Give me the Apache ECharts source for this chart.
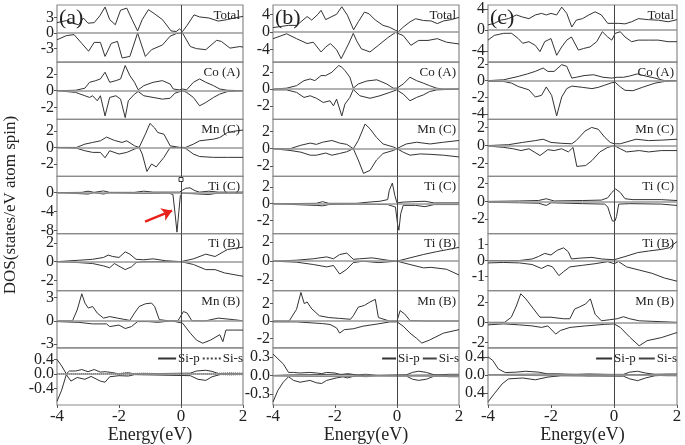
<!DOCTYPE html>
<html>
<head>
<meta charset="utf-8" />
<title>DOS panels</title>
<style>
  html, body { margin: 0; padding: 0; background: #fff; }
  #main { width: 685px; height: 445px; }
</style>
</head>
<body>
<script src="https://cdn.jsdelivr.net/npm/echarts@6/dist/echarts.min.js"></script>
<div id="main"></div>
<script>
// ---- panel names / letters / ticks ----
var rowNames = ["Total", "Co (A)", "Mn (C)", "Ti (C)", "Ti (B)", "Mn (B)", ""];
var colLetters = ["(a)", "(b)", "(c)"];
var energyTicks = [-4, -2, 0, 2];

// ---- column (a) ----
var aTotalUp = [[-4,2.0],[-3.7,2.4],[-3.45,1.8],[-3.3,1.6],[-3.15,2.9],[-3.0,1.9],[-2.8,2.0],[-2.62,3.3],[-2.45,5.0],[-2.3,2.6],[-2.12,1.6],[-1.95,4.4],[-1.75,4.8],[-1.58,2.6],[-1.4,0.4],[-1.25,2.6],[-1.05,4.5],[-0.9,3.9],[-0.6,2.6],[-0.32,0.4],[-0.15,0.3],[-0.05,0.8],[0.05,0.3],[0.2,1.5],[0.42,3.5],[0.6,3.1],[0.9,2.9],[1.2,2.3],[1.5,2.6],[1.8,3.0],[2.0,3.2]];
var aTotalDn = [[-4,-1.3],[-3.7,-0.5],[-3.45,-0.3],[-3.2,-2.0],[-2.98,-3.5],[-2.8,-1.8],[-2.6,-1.8],[-2.45,-4.5],[-2.25,-2.0],[-2.05,-1.6],[-1.9,-4.8],[-1.65,-4.5],[-1.4,0],[-1.15,-4.5],[-0.95,-3.2],[-0.6,-2.3],[-0.35,-0.6],[-0.15,-0.1],[0.05,0],[0.3,-2.6],[0.5,-3.0],[0.8,-3.2],[1.15,-1.4],[1.3,-1.6],[1.58,-2.9],[1.9,-2.6],[2.0,-2.7]];
var aCoUp = [[-4,0],[-3.4,0.05],[-3.1,0.3],[-2.95,1.0],[-2.75,1.2],[-2.6,1.4],[-2.45,2.2],[-2.3,1.0],[-2.1,1.2],[-1.95,1.4],[-1.8,3.0],[-1.65,1.8],[-1.5,1.0],[-1.38,0.1],[-1.2,0.6],[-0.9,1.0],[-0.6,1.2],[-0.35,0.8],[-0.25,0.2],[-0.05,0.1],[0.05,0.2],[0.18,0.1],[0.4,1.0],[0.6,1.4],[0.8,1.0],[1.05,0.6],[1.25,0.2],[1.5,0.05],[2,0]];
var aCoDn = [[-4,0],[-3.4,-0.2],[-3.1,-0.6],[-2.95,-0.8],[-2.85,-0.6],[-2.7,-1.2],[-2.6,-0.6],[-2.45,-3.0],[-2.3,-0.8],[-2.1,-0.6],[-1.95,-1.0],[-1.8,-3.2],[-1.7,-1.2],[-1.5,-0.4],[-1.38,-0.1],[-1.2,-0.6],[-0.9,-0.8],[-0.6,-1.0],[-0.35,-0.9],[-0.2,-0.3],[0.05,0],[0.18,-0.2],[0.4,-0.8],[0.6,-1.8],[0.8,-1.4],[1.05,-0.8],[1.25,-0.4],[1.5,-0.1],[2,0]];
var aMnCUp = [[-4,0],[-3.37,0],[-3.1,0.4],[-2.85,0.6],[-2.6,0.8],[-2.4,1.25],[-2.15,0.85],[-1.9,0.6],[-1.75,0.8],[-1.5,0.2],[-1.35,0],[-1.15,1.6],[-1.0,2.9],[-0.85,2.35],[-0.75,1.8],[-0.55,1.6],[-0.35,0.2],[-0.05,0],[0.15,0],[0.4,0.4],[0.6,0.8],[1.05,1.0],[1.25,1.2],[1.5,1.8],[1.7,1.95],[2,2.1]];
var aMnCDn = [[-4,0],[-3.37,-0.1],[-3.1,-0.4],[-2.85,-0.6],[-2.6,-0.6],[-2.45,-1.25],[-2.3,-0.4],[-2.0,-0.8],[-1.75,-0.6],[-1.5,-0.2],[-1.35,0],[-1.25,-0.8],[-1.1,-2.9],[-0.95,-2.0],[-0.8,-2.35],[-0.55,-1.2],[-0.35,0],[0.05,0],[0.18,-0.2],[0.4,-0.8],[0.6,-1.1],[1.05,-1.2],[1.5,-1.2],[2,-1.2]];
var aTiCUp = [[-4,0],[-3.2,0.05],[-3.0,0.3],[-2.8,0.05],[-2.5,0.35],[-2.3,0.05],[-1.5,0.05],[-1.2,0.3],[-0.9,0.1],[-0.3,0.1],[-0.05,0.1],[0.05,0.5],[0.15,0.9],[0.29,1.0],[0.45,0.4],[0.6,0.1],[0.9,0.3],[1.2,0.1],[2,0.1]];
var aTiCDn = [[-4,0],[-3.0,-0.3],[-2.8,0],[-2.5,-0.3],[-2.3,0],[-1.2,-0.2],[-0.4,-0.1],[-0.26,-0.4],[-0.19,-4.5],[-0.13,-8.3],[-0.07,-4.0],[-0.02,-0.6],[0.05,-0.1],[0.3,-0.2],[0.9,-0.4],[1.2,-0.1],[2,-0.1]];
var aTiBUp = [[-4,0],[-3.3,0.15],[-2.85,0.25],[-2.5,0.45],[-2.35,0.7],[-2.2,0.55],[-2.0,0.45],[-1.8,1.05],[-1.65,0.8],[-1.45,0.25],[-1.2,0.2],[-0.9,0.3],[-0.5,0.1],[0,0],[0.4,0.3],[0.8,0.8],[1.1,0.55],[1.5,1.3],[1.9,1.5],[2,1.55]];
var aTiBDn = [[-4,0],[-3.3,-0.1],[-2.85,-0.2],[-2.5,-0.45],[-2.3,-0.65],[-2.15,-0.2],[-1.8,-0.85],[-1.6,-0.55],[-1.45,-0.1],[-1.2,0],[0,0],[0.4,-0.3],[0.8,-0.85],[1.1,-0.85],[1.4,-1.2],[1.9,-1.5],[2,-1.55]];
var aMnBUp = [[-4,0],[-3.5,0],[-3.35,1.4],[-3.2,3.5],[-3.1,2.3],[-2.99,1.65],[-2.85,1.85],[-2.7,1.0],[-2.5,0.35],[-2.3,0.55],[-2.05,0.35],[-1.85,0.2],[-1.65,0.05],[-1.5,1.0],[-1.35,1.85],[-1.15,2.2],[-0.95,2.3],[-0.85,1.85],[-0.7,0.15],[-0.4,0],[-0.1,0],[0.08,1.2],[0.2,1.0],[0.35,0],[0.8,0],[1.2,0.35],[1.7,0.15],[2,0]];
var aMnBDn = [[-4,-0.1],[-3.3,-0.2],[-2.85,-0.4],[-2.4,-0.4],[-2.3,-0.75],[-2.0,-0.55],[-1.8,-1.0],[-1.6,-0.75],[-1.4,-0.1],[-1.05,-0.1],[-0.75,-0.2],[-0.3,0],[0.05,-0.3],[0.3,-1.6],[0.5,-2.5],[0.7,-2.9],[0.95,-2.5],[1.25,-1.8],[1.35,-2.7],[1.45,-1.2],[1.7,-1.2],[2,-1.2]];
var aSiPUp = [[-4,0.4],[-3.85,0.22],[-3.7,0.0],[-3.6,0.08],[-3.4,0.08],[-3.2,0.12],[-3.0,0.06],[-2.8,0.12],[-2.6,0.05],[-2.45,0.06],[-2.25,0.04],[-2.0,0.0],[-1.7,0.03],[-1.5,0.0],[0.3,0.02],[0.5,0.08],[0.8,0.1],[1.0,0.07],[1.2,0.01],[2,0]];
var aSiPDn = [[-4,-0.76],[-3.85,-0.45],[-3.7,-0.02],[-3.55,-0.2],[-3.35,-0.1],[-3.1,-0.15],[-2.9,-0.07],[-2.6,-0.2],[-2.45,-0.23],[-2.3,-0.08],[-2.0,-0.05],[-1.7,-0.06],[-1.5,-0.02],[0.3,-0.05],[0.55,-0.15],[0.8,-0.18],[1.0,-0.08],[1.3,-0.01],[2,0]];
var aSiSUp = [[-4,0],[-3.6,0.01],[-2.0,0.01],[-1.8,0.03],[-1.6,0.01],[-1.2,0.02],[-0.8,0.01],[0.2,0],[1.3,0.02],[1.6,0.03],[2,0.02]];
var aSiSDn = [[-4,0],[-3.6,-0.01],[-2.0,-0.01],[-1.8,-0.03],[-1.6,-0.01],[-1.2,-0.02],[-0.8,-0.01],[0.2,0],[1.3,-0.02],[1.6,-0.03],[2,-0.02]];

// ---- column (b) ----
var bTotalUp = [[-4,1.0],[-3.5,1.5],[-3.24,1.5],[-3.1,2.3],[-2.9,3.5],[-2.75,2.7],[-2.55,4.0],[-2.45,4.9],[-2.3,2.8],[-2.1,3.5],[-1.95,4.0],[-1.78,5.7],[-1.6,3.8],[-1.4,0.5],[-1.25,2.3],[-1.05,4.5],[-0.9,4.1],[-0.7,2.7],[-0.45,1.5],[-0.25,1.1],[-0.05,0.4],[0.05,0.1],[0.2,1.1],[0.42,2.3],[0.6,3.0],[0.85,2.6],[1.1,2.5],[1.3,1.9],[1.5,2.5],[1.75,2.8],[2.0,3.3]];
var bTotalDn = [[-4,-1.5],[-3.56,-0.4],[-3.24,-1.5],[-2.9,-2.6],[-2.7,-2.3],[-2.45,-4.5],[-2.3,-3.4],[-2.15,-2.6],[-1.95,-4.0],[-1.8,-6.0],[-1.65,-3.9],[-1.55,-2.5],[-1.41,-0.3],[-1.3,-2.0],[-1.15,-3.8],[-0.87,-4.5],[-0.6,-3.0],[-0.3,-1.3],[-0.05,-0.1],[0.2,-0.8],[0.45,-3.0],[0.7,-1.9],[1.0,-1.9],[1.3,-1.5],[1.6,-2.3],[2.0,-2.7]];
var bCoUp = [[-4,0],[-3.56,0.1],[-3.24,0.4],[-3.0,1.0],[-2.8,1.2],[-2.65,1.0],[-2.45,1.6],[-2.3,1.6],[-2.1,2.0],[-1.88,2.8],[-1.78,2.6],[-1.68,2.2],[-1.52,1.4],[-1.41,0.1],[-1.25,0.6],[-0.98,0.95],[-0.65,1.1],[-0.33,0.6],[-0.12,0.1],[0,0.1],[0.2,0.6],[0.42,1.4],[0.63,1.0],[0.85,0.7],[1.05,0.4],[1.28,0.1],[1.5,0],[2,0]];
var bCoDn = [[-4,-0.1],[-3.56,-0.1],[-3.24,-0.4],[-3.0,-1.0],[-2.8,-0.8],[-2.6,-1.1],[-2.38,-1.6],[-2.16,-1.4],[-2.05,-2.0],[-1.95,-1.2],[-1.78,-3.2],[-1.68,-1.8],[-1.52,-1.0],[-1.41,-0.05],[-1.2,-0.8],[-0.87,-1.1],[-0.55,-0.8],[-0.23,-0.4],[-0.01,-0.1],[0.2,-0.6],[0.42,-1.4],[0.63,-1.0],[0.85,-0.7],[1.05,-0.3],[1.28,-0.1],[2,0]];
var bMnCUp = [[-4,0],[-3.45,0],[-3.1,0.4],[-2.8,0.65],[-2.6,0.5],[-2.4,0.75],[-2.1,0.95],[-1.85,0.65],[-1.62,0.5],[-1.41,0],[-1.25,0.95],[-1.03,2.85],[-0.87,2.3],[-0.66,1.3],[-0.45,0.55],[-0.12,0.2],[0,0],[0.1,0.2],[0.3,0.55],[0.63,0.75],[1.07,0.55],[1.5,0.75],[2,0.95]];
var bMnCDn = [[-4,0],[-3.45,-0.2],[-3.1,-0.4],[-2.8,-0.75],[-2.6,-0.75],[-2.3,-0.5],[-2.1,-0.75],[-1.85,-0.55],[-1.62,-0.35],[-1.41,0],[-1.25,-1.3],[-1.08,-2.85],[-0.87,-2.5],[-0.66,-1.3],[-0.45,-0.55],[-0.12,-0.2],[0,0],[0.2,-0.4],[0.42,-0.75],[0.75,-0.6],[1.07,-0.65],[1.5,-0.75],[2,-0.95]];
var bTiCUp = [[-4,0],[-2.6,0.05],[-2.4,0.25],[-2.2,0.05],[-1.3,0.05],[-0.9,0.2],[-0.55,0.3],[-0.3,0.5],[-0.25,1.6],[-0.15,2.5],[-0.07,1.0],[0,0.1],[0.2,0.2],[0.9,0.3],[1.2,0.1],[2,0.1]];
var bTiCDn = [[-4,0],[-2.6,-0.2],[-2.4,-0.25],[-2.2,-0.1],[-1.3,-0.05],[-0.3,-0.1],[-0.05,-0.4],[0.02,-2.5],[0.06,-3.2],[0.12,-1.2],[0.2,-0.2],[0.6,-0.2],[0.9,-0.35],[1.2,-0.1],[2,-0.1]];
var bTiBUp = [[-4,0],[-3.25,0.1],[-2.7,0.25],[-2.27,0.45],[-2.05,0.25],[-1.85,0.7],[-1.62,0.85],[-1.41,0.2],[-1.2,0.25],[-0.8,0.35],[-0.3,0.1],[0,0],[0.42,0.35],[0.85,0.7],[1.28,1.0],[1.6,1.2],[2,1.45]];
var bTiBDn = [[-4,0],[-3.25,-0.1],[-2.7,-0.35],[-2.27,-0.6],[-2.05,-0.45],[-1.85,-1.35],[-1.62,-0.85],[-1.41,-0.15],[-1.1,0],[-0.6,-0.15],[0,0],[0.42,-0.35],[0.85,-0.7],[1.1,-0.65],[1.6,-0.85],[2,-1.45]];
var bMnBUp = [[-4,0],[-3.48,0],[-3.24,1.35],[-3.1,3.3],[-2.99,2.0],[-2.9,2.2],[-2.75,1.4],[-2.5,0.6],[-2.2,0.4],[-1.85,0.3],[-1.5,0.2],[-1.41,0.6],[-1.25,1.6],[-1.05,1.8],[-0.87,2.2],[-0.7,2.5],[-0.6,0.4],[-0.25,0],[0,0],[0.1,1.2],[0.25,0.8],[0.42,0.05],[1.0,0],[2,0]];
var bMnBDn = [[-4,-0.1],[-3.24,-0.1],[-2.4,-0.3],[-2.16,-0.4],[-1.95,-0.8],[-1.85,-1.4],[-1.7,-1.0],[-1.41,-0.9],[-1.1,-0.6],[-0.55,-0.3],[-0.23,-0.1],[0,-0.1],[0.2,-0.6],[0.42,-1.4],[0.63,-2.0],[0.8,-2.55],[1.05,-2.2],[1.5,-1.4],[2,-1.0]];
var bSiPUp = [[-4,0.35],[-3.84,0.27],[-3.67,0.19],[-3.5,0.05],[-3.34,0.05],[-3.13,0.04],[-2.81,0.05],[-2.59,0.04],[-2.43,0.03],[-2.27,0.05],[-2.0,0.04],[-1.8,0.01],[-1.6,0.03],[-1.45,0.02],[-1.2,0],[0.3,0.01],[0.5,0.05],[0.7,0.07],[0.95,0.05],[1.2,0.01],[2,0]];
var bSiPDn = [[-4,-0.43],[-3.84,-0.24],[-3.67,-0.11],[-3.5,-0.02],[-3.34,-0.08],[-3.13,-0.11],[-2.81,-0.08],[-2.59,-0.12],[-2.43,-0.13],[-2.27,-0.08],[-1.95,-0.04],[-1.74,-0.02],[-1.6,-0.04],[-1.45,-0.02],[-1.2,0],[0.3,-0.01],[0.5,-0.06],[0.7,-0.08],[0.95,-0.06],[1.2,-0.01],[2,0]];
var bSiSUp = [[-4,0],[-3.5,0.01],[-1.7,0.02],[-1.3,0.01],[-1.0,0.02],[-0.6,0],[1.3,0.01],[1.7,0.02],[2,0.02]];
var bSiSDn = [[-4,0],[-3.5,-0.01],[-1.7,-0.02],[-1.3,-0.01],[-1.0,-0.02],[-0.6,0],[1.3,-0.01],[1.7,-0.02],[2,-0.02]];

// ---- column (c) ----
var cTotalUp = [[-4,1.0],[-3.8,1.3],[-3.6,1.9],[-3.35,2.2],[-3.1,2.9],[-2.9,2.5],[-2.7,2.2],[-2.5,2.9],[-2.3,3.2],[-2.15,2.9],[-2.0,3.2],[-1.82,2.9],[-1.66,4.4],[-1.5,3.2],[-1.34,0.6],[-1.2,1.9],[-1.0,2.2],[-0.8,2.9],[-0.6,3.5],[-0.4,2.9],[-0.2,1.3],[0.0,1.3],[0.14,1.3],[0.35,1.2],[0.56,1.6],[0.77,2.2],[1.09,2.0],[1.41,1.9],[1.72,1.6],[2.0,2.0]];
var cTotalDn = [[-4,-1.9],[-3.8,-1.0],[-3.5,-0.6],[-3.25,-0.6],[-3.04,-1.6],[-2.9,-2.5],[-2.7,-2.2],[-2.5,-2.9],[-2.35,-4.1],[-2.2,-2.2],[-2.0,-1.6],[-1.82,-4.8],[-1.66,-3.2],[-1.5,-1.9],[-1.35,-1.3],[-1.13,-3.8],[-0.97,-3.5],[-0.76,-3.2],[-0.55,-2.2],[-0.37,-0.3],[-0.2,-1.3],[-0.07,-1.9],[0.04,-0.6],[0.2,-0.3],[0.35,-1.3],[0.56,-2.2],[0.77,-1.9],[1.1,-1.9],[1.4,-1.9],[1.72,-2.2],[2.0,-2.2]];
var cCoUp = [[-4,0],[-3.5,0.1],[-3.04,0.5],[-2.75,0.8],[-2.5,1.1],[-2.25,1.5],[-2.1,1.1],[-1.9,1.1],[-1.66,1.9],[-1.5,1.7],[-1.34,0.3],[-1.2,0.4],[-0.95,0.6],[-0.65,0.7],[-0.35,0.4],[-0.07,0.3],[0.1,0.4],[0.3,0.4],[0.5,0.55],[0.74,0.8],[1.0,0.55],[1.3,0.3],[1.6,0],[2,0]];
var cCoDn = [[-4,-0.1],[-3.5,-0.1],[-3.25,-0.3],[-3.04,-0.7],[-2.7,-1.1],[-2.5,-1.95],[-2.3,-1.75],[-2.15,-0.75],[-1.98,-1.75],[-1.82,-4.2],[-1.66,-1.95],[-1.5,-0.95],[-1.34,-0.65],[-1.0,-0.8],[-0.7,-0.95],[-0.5,-0.8],[-0.3,-0.55],[-0.07,-0.25],[0.04,-0.2],[0.2,-0.75],[0.35,-1.15],[0.6,-1.2],[0.9,-0.8],[1.3,-0.3],[1.6,-0.1],[2,0]];
var cMnCUp = [[-4,0],[-3.35,0.1],[-2.9,0.35],[-2.5,0.55],[-2.25,0.7],[-2.0,0.35],[-1.66,0.25],[-1.34,0.2],[-1.2,0.55],[-0.92,1.6],[-0.71,2.0],[-0.5,1.8],[-0.29,0.9],[-0.12,0.35],[0.01,0.2],[0.2,0.2],[0.35,0.35],[0.7,0.7],[1.1,0.55],[1.5,0.6],[2.0,0.7]];
var cMnCDn = [[-4,-0.05],[-3.5,-0.2],[-3.2,-0.35],[-2.95,-0.55],[-2.7,-0.35],[-2.35,-1.1],[-2.1,-0.45],[-1.9,-0.55],[-1.66,-0.35],[-1.45,-0.7],[-1.3,-0.2],[-1.18,-2.3],[-1.13,-2.5],[-0.9,-2.2],[-0.7,-1.65],[-0.45,-0.7],[-0.2,-0.2],[0.01,0],[0.2,-0.35],[0.4,-0.7],[0.8,-0.55],[1.1,-0.7],[1.5,-0.55],[2,-0.55]];
var cTiCUp = [[-4,0],[-3,0.05],[-2.4,0.1],[-2.15,0.3],[-1.9,0.05],[-1.0,0.1],[-0.4,0.15],[-0.2,0.4],[-0.07,1.0],[0.05,1.4],[0.2,1.0],[0.35,0.3],[0.6,0.2],[1.5,0.2],[2,0.1]];
var cTiCDn = [[-4,-0.1],[-3,-0.15],[-2.4,-0.2],[-2.15,-0.45],[-2.0,-0.15],[-1.0,-0.25],[-0.3,-0.3],[-0.2,-0.6],[-0.12,-1.5],[-0.05,-2.2],[0.03,-2.2],[0.08,-1.7],[0.15,-0.3],[0.5,-0.25],[1.5,-0.3],[2,-0.45]];
var cTiBUp = [[-4,0],[-3.0,0],[-2.6,0.1],[-2.4,0.25],[-2.2,0.45],[-2.0,0.35],[-1.8,0.65],[-1.6,0.8],[-1.45,0.55],[-1.35,0.1],[-1.1,0.15],[-0.7,0.2],[-0.4,0.1],[0,0.05],[0.35,0.25],[0.75,0.5],[1.1,0.6],[1.5,0.7],[1.75,0.8],[2.0,1.2]];
var cTiBDn = [[-4,-0.15],[-3.5,-0.12],[-3.0,-0.15],[-2.6,-0.25],[-2.3,-0.5],[-2.1,-0.3],[-1.95,-0.4],[-1.75,-0.95],[-1.6,-0.7],[-1.4,-0.4],[-1.0,-0.3],[-0.6,-0.2],[-0.2,-0.07],[0.01,-0.2],[0.14,-0.06],[0.4,-0.4],[0.8,-0.6],[1.2,-0.8],[1.6,-1.1],[2.0,-1.3]];
var cMnBUp = [[-4,0],[-3.47,0],[-3.26,0.5],[-3.1,1.6],[-2.96,2.8],[-2.8,2.3],[-2.6,1.5],[-2.35,0.5],[-2.0,0.5],[-1.6,0.35],[-1.4,0.35],[-1.25,1.3],[-1.1,1.5],[-0.9,1.8],[-0.75,2.3],[-0.6,0.8],[-0.4,0.15],[-0.15,0.25],[0.1,0.35],[0.3,0.55],[0.5,0.35],[0.8,0.15],[1.2,0.1],[2,0]];
var cMnBDn = [[-4,-0.25],[-3.5,-0.15],[-3.0,-0.25],[-2.6,-0.35],[-2.3,-0.5],[-2.1,-0.35],[-1.85,-1.15],[-1.7,-0.8],[-1.4,-0.5],[-0.9,-0.35],[-0.5,-0.25],[-0.3,-0.2],[0.0,-0.15],[0.2,-0.5],[0.5,-1.45],[0.8,-2.3],[1.05,-1.8],[1.5,-1.5],[2.0,-1.0]];
var cSiPUp = [[-4,0.4],[-3.85,0.32],[-3.67,0.13],[-3.45,0.05],[-3.1,0.06],[-2.8,0.08],[-2.4,0.06],[-2.1,0.02],[-1.9,0.02],[-1.5,0.01],[0.3,0.01],[0.5,0.06],[0.75,0.08],[1.0,0.04],[1.3,0.01],[2,0]];
var cSiPDn = [[-4,-0.6],[-3.8,-0.42],[-3.55,-0.2],[-3.35,-0.09],[-2.9,-0.07],[-2.5,-0.11],[-2.1,-0.05],[-1.7,-0.02],[0.3,-0.03],[0.5,-0.09],[0.75,-0.13],[1.0,-0.07],[1.3,-0.02],[2,0]];
var cSiSUp = [[-4,0],[-3.4,0.01],[-1.9,0.02],[-1.2,0.01],[-0.8,0.02],[0.2,0],[1.2,0.01],[1.7,0.02],[2,0.02]];
var cSiSDn = [[-4,0],[-3.4,-0.01],[-1.9,-0.02],[-1.2,-0.01],[-0.8,-0.02],[0.2,0],[1.2,-0.01],[1.7,-0.02],[2,-0.02]];

// red arrow in (a) Ti(C), and the small marker on the Fermi line
var arrowFrom = [-1.16, -6.1];
var arrowTo = [-0.29, -3.8];
var markerPoint = [0, 2.75];

// [up, down, min, max, tick values, tick texts]
var panels = [
  [
    [aTotalUp, aTotalDn, -5.6, 5.4, [-3, 0, 3]],
    [aCoUp, aCoDn, -3.4, 3.4, [-2, 0, 2]],
    [aMnCUp, aMnCDn, -3.5, 3.4, [-2, 0, 2]],
    [aTiCUp, aTiCDn, -8.6, 3.4, [-8, -4, 0]],
    [aTiBUp, aTiBDn, -3.1, 3.0, [-2, 0, 2]],
    [aMnBUp, aMnBDn, -3.5, 3.9, [-3, 0, 3]],
    [[aSiPUp, aSiPDn, aSiSUp, aSiSDn], null, -0.86, 0.72, [-0.4, 0, 0.4], ["-0.4", "0.0", "0.4"]]
  ],
  [
    [bTotalUp, bTotalDn, -6.8, 6.1, [-4, 0, 4]],
    [bCoUp, bCoDn, -3.6, 3.2, [-2, 0, 2]],
    [bMnCUp, bMnCDn, -3.2, 3.4, [-2, 0, 2]],
    [bTiCUp, bTiCDn, -3.6, 3.3, [-2, 0, 2]],
    [bTiBUp, bTiBDn, -3.1, 2.9, [-2, 0, 2]],
    [bMnBUp, bMnBDn, -3.1, 3.5, [-2, 0, 2]],
    [[bSiPUp, bSiPDn, bSiSUp, bSiSDn], null, -0.48, 0.45, [-0.3, 0, 0.3], ["-0.3", "0.0", "0.3"]]
  ],
  [
    [cTotalUp, cTotalDn, -6.1, 4.8, [-4, 0, 4]],
    [cCoUp, cCoDn, -4.6, 2.2, [-4, -2, 0, 2]],
    [cMnCUp, cMnCDn, -3.4, 2.9, [-2, 0, 2]],
    [cTiCUp, cTiCDn, -3.6, 2.8, [-2, 0, 2]],
    [cTiBUp, cTiBDn, -1.9, 1.7, [-1, 0, 1]],
    [cMnBUp, cMnBDn, -2.5, 3.1, [-2, 0, 2]],
    [[cSiPUp, cSiPDn, cSiSUp, cSiSDn], null, -0.67, 0.6, [-0.4, 0, 0.4], ["0.4", "0.0", "0.4"]]
  ]
];

var FONT = "'Liberation Serif', 'Times New Roman', serif";
var INK = "#222";
var LINE = "#333";
var colLeft = [57, 273, 488];
var colWidth = [186, 186, 189];
var top0 = 5, rowH = 57.14;

var grids = [], xAxes = [], yAxes = [], series = [], titles = [];

// one y axis carrying a subset of the tick labels (split in two so that
// close labels never hide each other)
function yAxisFor(idx, p, parity) {
  var ticks = p[4], texts = p[5];
  var vals = ticks.filter(function (t, i) { return i % 2 === parity; });
  return {
    type: "value", gridIndex: idx, min: p[2], max: p[3], position: "left", offset: 0,
    axisLine: { show: false, onZero: false },
    splitLine: { show: false },
    axisTick: { show: true, length: 3, customValues: vals, lineStyle: { color: "#555" } },
    axisLabel: {
      fontFamily: FONT, fontSize: 16, color: INK, margin: 3, customValues: vals,
      showMinLabel: true, showMaxLabel: true,
      formatter: function (v) {
        for (var i = 0; i < ticks.length; i++) {
          if (Math.abs(ticks[i] - v) < 1e-6) return texts ? texts[i] : String(ticks[i]);
        }
        return "";
      }
    }
  };
}

panels.forEach(function (col, c) {
  col.forEach(function (p, r) {
    var idx = grids.length;
    var top = top0 + r * rowH;
    var last = r === 6;
    grids.push({
      left: colLeft[c], top: top, width: colWidth[c], height: rowH,
      outerBoundsMode: "none", containLabel: false,
      show: true, borderColor: "#8a8a8a", borderWidth: 1.2, backgroundColor: "transparent"
    });
    xAxes.push({
      type: "value", gridIndex: idx, min: -4, max: 2, interval: 2,
      axisLine: { show: false, onZero: false },
      splitLine: { show: false },
      axisTick: { show: last, length: 3, lineStyle: { color: "#555" } },
      axisLabel: { show: last, fontFamily: FONT, fontSize: 17, color: INK, margin: 3,
                   customValues: energyTicks, showMinLabel: true, showMaxLabel: true },
      name: last ? "Energy(eV)" : "",
      nameLocation: "middle", nameGap: 21,
      nameTextStyle: { fontFamily: FONT, fontSize: 18, color: INK }
    });
    var yMain = yAxisFor(idx, p, 0);
    var ySub = yAxisFor(idx, p, 1);
    if (c === 0 && r === 3) {
      yMain.name = "DOS(states/eV atom spin)";
      yMain.nameLocation = "middle";
      yMain.nameGap = 38;
      yMain.nameRotate = 90;
      yMain.nameTextStyle = { fontFamily: FONT, fontSize: 17, color: INK };
    }
    var yi = yAxes.length;
    yAxes.push(yMain, ySub);

    var zeroLines = {
      silent: true, symbol: ["none", "none"], label: { show: false }, animation: false,
      data: [
        { yAxis: 0, lineStyle: { color: "#999", width: 1.5, type: "solid" } },
        { xAxis: 0, lineStyle: { color: "#444", width: 1, type: "solid" } }
      ]
    };
    function line(data, name, extra) {
      return {
        type: "line", name: name, xAxisIndex: idx, yAxisIndex: yi, data: data,
        symbol: "none", silent: true, animation: false, z: 3, color: LINE,
        lineStyle: Object.assign({ color: LINE, width: 1 }, extra || {})
      };
    }
    if (last) {
      var d = p[0];
      var sStyle = c === 0 ? { type: "dotted", color: "#444" } : { color: "#555" };
      var s1 = line(d[0], "Si-p");
      s1.markLine = zeroLines;
      series.push(s1, line(d[1], "Si-p"), line(d[2], "Si-s", sStyle), line(d[3], "Si-s", sStyle));
    } else {
      var up = line(p[0], "");
      var dn = line(p[1], "");
      up.markLine = zeroLines;
      if (c === 0 && r === 3) {
        dn.markLine = {
          silent: true, label: { show: false }, animation: false,
          symbol: ["none", "arrow"], symbolSize: 10,
          lineStyle: { color: "#e8231c", width: 2.5, type: "solid" },
          data: [[{ coord: arrowFrom }, { coord: arrowTo }]]
        };
        up.markPoint = {
          silent: true, animation: false, symbol: "rect", symbolSize: 4,
          label: { show: false },
          itemStyle: { color: "#fff", borderColor: "#333", borderWidth: 1 },
          data: [{ coord: markerPoint }]
        };
      }
      series.push(up, dn);
      titles.push({
        text: rowNames[r], right: 685 - (colLeft[c] + colWidth[c]) + 3, top: top + 4, padding: 0,
        textStyle: { fontFamily: FONT, fontSize: 13, fontWeight: "normal", color: INK }
      });
    }
  });
  titles.push({
    text: colLetters[c], left: colLeft[c] + 2, top: 7, padding: 0,
    textStyle: { fontFamily: FONT, fontSize: 22, fontWeight: "normal", color: INK }
  });
});

var legendBase = {
  top: 352, orient: "horizontal", itemWidth: 18, itemHeight: 10, itemGap: 2,
  selectedMode: false, padding: 0,
  itemStyle: { opacity: 0 },
  textStyle: { fontFamily: FONT, fontSize: 13, color: INK, padding: [0, 0, 0, -3] }
};
var legends = [
  Object.assign({}, legendBase, { right: 442, data: ["Si-p", { name: "Si-s", lineStyle: { type: "dotted" } }] }),
  Object.assign({}, legendBase, { right: 226, itemWidth: 14, data: ["Si-p", { name: "Si-s", lineStyle: { type: "solid" } }] }),
  Object.assign({}, legendBase, { right: 8, itemWidth: 16, data: ["Si-p", { name: "Si-s", lineStyle: { type: "solid" } }] })
];

var chart = echarts.init(document.getElementById("main"), null, { renderer: "canvas" });
chart.setOption({
  animation: false,
  backgroundColor: "#fff",
  title: titles,
  legend: legends,
  grid: grids,
  xAxis: xAxes,
  yAxis: yAxes,
  series: series
});
</script>
</body>
</html>
